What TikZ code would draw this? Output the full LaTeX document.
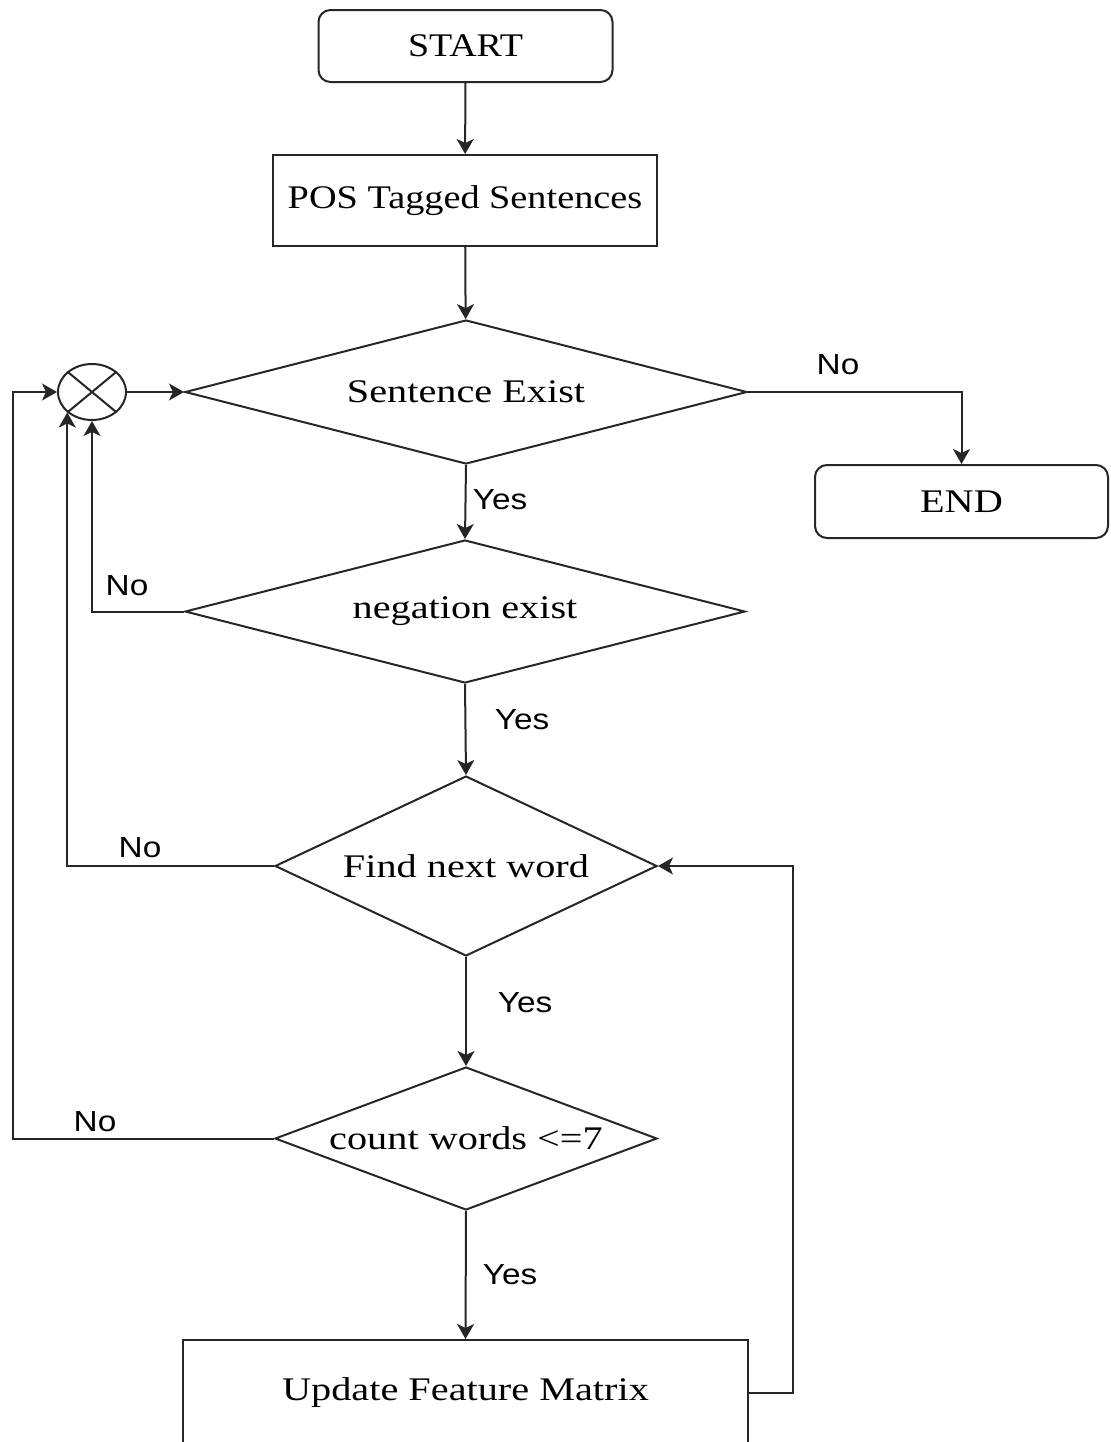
\documentclass[tikz,border=0pt]{standalone}
\usepackage{fontspec}
\usepackage{graphicx}
\setmainfont{Liberation Serif}
\setsansfont{Liberation Sans}
\usetikzlibrary{shapes.geometric,arrows.meta}

% slightly widened lettering
\newcommand\widetext[2][1.22]{\scalebox{#1}[1]{#2}}
\newcommand\widelabel[1]{\scalebox{1.15}[1]{#1}}
% text that does not enlarge its diamond
\newcommand\freetext[1]{\makebox[0pt]{\widetext{#1}}}

\tikzset{
  flow/.style={line width=1pt, draw=black!85},
  arr/.style={flow, -{Stealth[length=7.5pt,width=8.5pt,inset=2pt]}},
  boxfont/.style={font=\fontsize{16.5pt}{19pt}\selectfont},
  terminal/.style={draw=black!85, line width=1pt, rounded corners=6pt,
    minimum width=147pt, minimum height=36pt, inner sep=0pt, boxfont},
  process/.style={draw=black!85, line width=1pt, inner sep=0pt, boxfont},
  decision/.style={draw=black!85, line width=1pt, diamond, aspect=2,
    inner sep=0pt, boxfont},
  answer/.style={font=\sffamily\fontsize{14.5pt}{16pt}\selectfont, inner sep=0pt},
}

\begin{document}
\begin{tikzpicture}[x=0.5pt, y=-0.5pt]
\useasboundingbox (0,0) rectangle (1110,1442);

% main column
\node[terminal] (start) at (465.5,46) {\widetext[1.15]{START}};
\node[process, minimum width=192pt, minimum height=45.5pt] (pos) at (465,200.5)
  {\widetext[1.16]{POS Tagged Sentences}};
\node[decision, minimum width=281pt, minimum height=72pt] (sent) at (466,392)
  {\freetext{Sentence Exist}};
\node[terminal, minimum width=146.5pt, minimum height=36.5pt] (end) at (961.5,501.5)
  {\widetext{END}};
\node[decision, minimum width=280pt, minimum height=71.5pt] (neg) at (465,611.5)
  {\freetext{negation exist}};
\node[decision, minimum width=191pt, minimum height=90pt] (next) at (466,866)
  {\freetext{Find next word}};
\node[decision, minimum width=191pt, minimum height=71.5pt] (count) at (466,1138.5)
  {\freetext{count words <=7}};
\node[process, minimum width=282.5pt, minimum height=53pt] (upd) at (465.5,1393)
  {\widetext{Update Feature Matrix}};

% junction
\node[ellipse, draw=black!85, line width=1pt, minimum width=34pt,
  minimum height=28pt, inner sep=0pt] (junc) at (92,392) {};
\draw[flow] (junc.north east) -- (junc.south west);
\draw[flow] (junc.north west) -- (junc.south east);

\coordinate (loopL) at (13,392);
\coordinate (loopR) at (793,866);

% connectors
\draw[arr] (start) -- (pos);
\draw[arr] (pos) -- (sent);
\draw[arr] (junc.east) -- (sent.west);
\draw[arr] (sent.east) -| (end.north);
\draw[arr] (sent.south) -- (neg.north);
\draw[arr] (neg.west) -| (junc.south);
\draw[arr] (neg.south) -- (next.north);
\draw[arr] (next.west) -| (junc.south west);
\draw[arr] (next.south) -- (count.north);
\draw[arr] (count.west) -| (loopL) -- (junc.west);
\draw[arr] (count.south) -- (upd.north);
\draw[arr] (upd.east) -| (loopR) -- (next.east);

% branch labels
\node[answer] (l1) at (838,365) {\widelabel{No}};
\node[answer] (l2) at (500,500) {\widelabel{Yes}};
\node[answer] (l3) at (127,586) {\widelabel{No}};
\node[answer] (l4) at (522,720) {\widelabel{Yes}};
\node[answer] (l5) at (140,848) {\widelabel{No}};
\node[answer] (l6) at (525,1003) {\widelabel{Yes}};
\node[answer] (l7) at (95,1122) {\widelabel{No}};
\node[answer] (l8) at (510,1275) {\widelabel{Yes}};
\end{tikzpicture}
\end{document}
